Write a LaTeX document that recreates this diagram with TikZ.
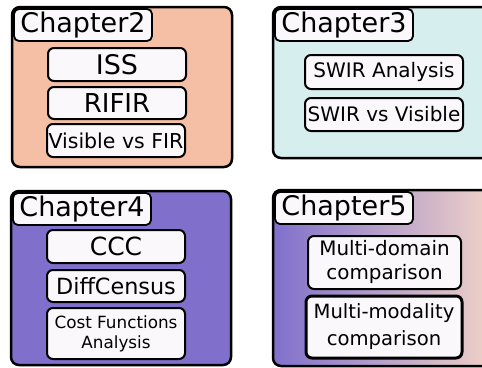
\documentclass[tikz,border=0pt]{standalone}
\usepackage{fontspec}
\setmainfont{DejaVu Sans}
\definecolor{salmonfill}{HTML}{F4BFA4}
\definecolor{cyanfill}{HTML}{D6EEEE}
\definecolor{purplefill}{HTML}{8070CC}
\definecolor{pinkfill}{HTML}{F2D3C8}
\definecolor{itemfill}{HTML}{FBF8FC}
\tikzset{
  chapterbox/.style={draw=black, line width=2.5pt, rounded corners=8pt, inner sep=0pt},
  chaptertag/.style={draw=black, line width=1.8pt, rounded corners=5pt, fill=itemfill,
    minimum width=138pt, minimum height=32pt, inner sep=0pt,
    font=\fontsize{27}{30}\selectfont},
  itembox/.style={draw=black, line width=2pt, rounded corners=6pt, fill=itemfill,
    inner sep=0pt, align=center},
}
\begin{document}
\begin{tikzpicture}[x=1pt,y=-1pt]
\useasboundingbox (0,0) rectangle (482,367);

% Chapter 2
\node[chapterbox, fill=salmonfill, minimum width=220pt, minimum height=160pt] (ch2) at (122,87) {};
\node[chaptertag] (ch2tag) at (83,25) {Chapter2};
\node[itembox, minimum width=138pt, minimum height=33pt, font=\fontsize{27}{30}\selectfont] (iss) at (117,64.5) {ISS};
\node[itembox, minimum width=138pt, minimum height=32pt, font=\fontsize{26}{30}\selectfont] (rifir) at (117,103) {RIFIR};
\node[itembox, minimum width=138pt, minimum height=33pt, font=\fontsize{20.5}{24}\selectfont] (visfir) at (116,140.5) {Visible vs FIR};

% Chapter 3
\node[chapterbox, fill=cyanfill, minimum width=222pt, minimum height=151pt] (ch3) at (384,82.5) {};
\node[chaptertag] (ch3tag) at (344,25) {Chapter3};
\node[itembox, minimum width=158pt, minimum height=34pt, font=\fontsize{20}{24}\selectfont] (swira) at (384,72) {SWIR Analysis};
\node[itembox, minimum width=158pt, minimum height=33pt, font=\fontsize{20}{24}\selectfont] (swirv) at (384,114.5) {SWIR vs Visible};

% Chapter 4
\node[chapterbox, fill=purplefill, minimum width=220pt, minimum height=174pt] (ch4) at (121,278) {};
\node[chaptertag] (ch4tag) at (82,209) {Chapter4};
\node[itembox, minimum width=138pt, minimum height=33pt, font=\fontsize{25}{30}\selectfont] (ccc) at (116,246.5) {CCC};
\node[itembox, minimum width=138pt, minimum height=32pt, font=\fontsize{22.3}{26}\selectfont] (census) at (116,286) {DiffCensus};
\node[itembox, minimum width=138pt, minimum height=51pt, font=\fontsize{16.8}{20}\selectfont] (costfn) at (116,333.5) {Cost Functions\\Analysis};

% Chapter 5
\node[chapterbox, left color=purplefill, right color=pinkfill, minimum width=222pt, minimum height=176pt] (ch5) at (384,278) {};
\node[chaptertag] (ch5tag) at (344,208) {Chapter5};
\node[itembox, minimum width=153pt, minimum height=53pt, font=\fontsize{19.9}{24}\selectfont] (mdomain) at (384.5,262.5) {Multi-domain\\comparison};
\node[itembox, line width=3pt, minimum width=156pt, minimum height=62pt, font=\fontsize{19.6}{27}\selectfont] (mmodal) at (384,327) {Multi-modality\\comparison};
\end{tikzpicture}
\end{document}
